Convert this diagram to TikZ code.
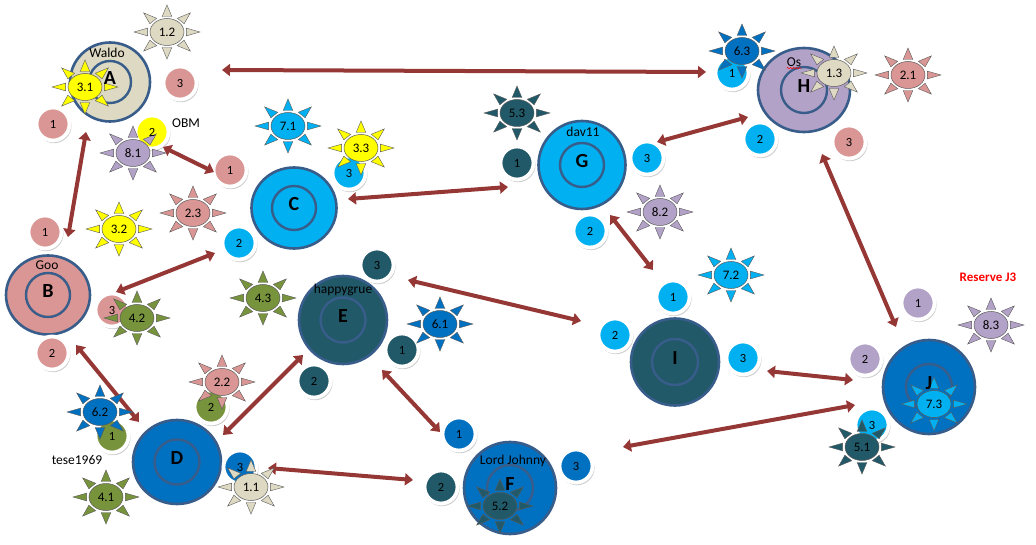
\documentclass[tikz,border=0pt]{standalone}
\usepackage{fontspec}
\setmainfont{Carlito}
\usepackage{tikz}
\usetikzlibrary{shapes.geometric, arrows.meta, shadows, decorations.pathmorphing}

\definecolor{RingBlue}{RGB}{56,93,138}
\definecolor{Tan}     {RGB}{221,217,195}
\definecolor{Rose}    {RGB}{217,150,148}
\definecolor{Sky}     {RGB}{0,176,240}
\definecolor{Cobalt}  {RGB}{0,112,192}
\definecolor{Teal}    {RGB}{33,89,104}
\definecolor{Lilac}   {RGB}{179,162,199}
\definecolor{Olive}   {RGB}{119,147,60}
\definecolor{Lemon}   {RGB}{255,255,0}
\definecolor{Brick}   {RGB}{149,55,53}
\definecolor{RayLine} {RGB}{90,90,90}

\pgfdeclarelayer{planets}
\pgfdeclarelayer{discs}
\pgfsetlayers{planets,discs,main}

%% planet: name, centre, width, height, ring, colour, letter
\newcommand{\planet}[7]{%
  \begin{pgfonlayer}{planets}
    \node[planet, fill=#6, minimum width=#3, minimum height=#4] (#1) at (#2) {};
    \node[ring, minimum size=#5] (#1-ring) at (#1) {};
  \end{pgfonlayer}
  \node[letter] (#1-txt) at ([yshift=4pt]#1.center) {#7};}

%% port: name, centre, colour, number
\newcommand{\port}[4]{%
  \begin{pgfonlayer}{discs}
    \node[disc, fill=#3] (#1) at (#2) {};
  \end{pgfonlayer}
  \node[portnum] (#1-txt) at (#1) {#4};}

%% sunburst: name, centre, colour, value
\newcommand{\sunburst}[4]{%
  \begin{scope}[shift={(#2)}]
    \foreach \a in {0,45,...,315}
      \filldraw[ray, fill=#3] ({33*cos(\a)},{27*sin(\a)})
        -- ({20*cos(\a+14)},{16*sin(\a+14)})
        -- ({20*cos(\a-14)},{16*sin(\a-14)}) -- cycle;
    \node[sunbody, fill=#3] (#1) at (0,0) {#4};
  \end{scope}}

\begin{document}
\begin{tikzpicture}[x=1pt, y=-1pt,
  planet/.style  = {ellipse, draw=RingBlue, line width=2.6pt, inner sep=0pt},
  ring/.style    = {ellipse, draw=RingBlue, line width=2.4pt, inner sep=0pt},
  letter/.style  = {font=\fontsize{20}{22}\selectfont\bfseries},
  disc/.style    = {circle, draw=white, line width=3.8pt, minimum size=33pt,
                    inner sep=0pt,
                    drop shadow={shadow xshift=1pt, shadow yshift=-1.6pt,
                                 shadow scale=1.06, opacity=0.4}},
  portnum/.style = {font=\fontsize{12.5}{15}\selectfont, inner sep=0pt},
  ray/.style     = {draw=RayLine, line width=0.4pt},
  sunbody/.style = {ellipse, draw=RayLine, line width=0.5pt, inner sep=0pt,
                    minimum width=34pt, minimum height=27pt,
                    font=\fontsize{13}{15}\selectfont},
  who/.style     = {font=\fontsize{13.5}{15}\selectfont, inner sep=0pt},
  link/.style    = {Brick, line width=4pt,
                    {Triangle[length=8pt,width=12pt]}-{Triangle[length=8pt,width=12pt]}}
]
  \useasboundingbox (0,0) rectangle (1036,545);

  %% Arrow ends
  \coordinate (a2h) at (222,70);  \coordinate (h2a) at (706,72);
  \coordinate (a2b) at (86,132);  \coordinate (b2a) at (68,237);
  \coordinate (o2c) at (163,147); \coordinate (c2o) at (214,172);
  \coordinate (b2c) at (116,292); \coordinate (c2b) at (215,253);
  \coordinate (b2d) at (76,345);  \coordinate (d2b) at (139,422);
  \coordinate (d2e) at (223,435); \coordinate (e2d) at (303,355);
  \coordinate (d2f) at (268,468); \coordinate (f2d) at (413,480);
  \coordinate (c2g) at (348,199); \coordinate (g2c) at (508,187);
  \coordinate (e2i) at (408,280); \coordinate (i2e) at (581,321);
  \coordinate (e2f) at (382,370); \coordinate (f2e) at (440,432);
  \coordinate (g2h) at (657,142); \coordinate (h2g) at (748,117);
  \coordinate (g2i) at (610,215); \coordinate (i2g) at (653,270);
  \coordinate (h2j) at (822,154); \coordinate (j2h) at (896,327);
  \coordinate (i2j) at (767,371); \coordinate (j2i) at (853,380);
  \coordinate (f2j) at (623,447); \coordinate (j2f) at (855,405);

  %% Arrows
  \draw[link] (a2h) -- (h2a);
  \draw[link] (a2b) -- (b2a);
  \draw[link] (o2c) -- (c2o);
  \draw[link] (b2c) -- (c2b);
  \draw[link] (b2d) -- (d2b);
  \draw[link] (d2e) -- (e2d);
  \draw[link] (d2f) -- (f2d);
  \draw[link] (c2g) -- (g2c);
  \draw[link] (e2i) -- (i2e);
  \draw[link] (e2f) -- (f2e);
  \draw[link] (g2h) -- (h2g);
  \draw[link] (g2i) -- (i2g);
  \draw[link] (h2j) -- (j2h);
  \draw[link] (i2j) -- (j2i);
  \draw[link] (f2j) -- (j2f);

  %% Suns
  \sunburst{s12}{167,32}{Tan}{1.2}
  \sunburst{s31}{85,87}{Lemon}{3.1}
  \sunburst{s81}{133,153}{Lilac}{8.1}
  \sunburst{s32}{119,229}{Lemon}{3.2}
  \sunburst{s23}{193,213}{Rose}{2.3}
  \sunburst{s42}{137,318}{Olive}{4.2}
  \sunburst{s43}{263,298}{Olive}{4.3}
  \sunburst{s71}{288,126}{Sky}{7.1}
  \sunburst{s33}{361,148}{Lemon}{3.3}
  \sunburst{s62}{100,412}{Cobalt}{6.2}
  \sunburst{s22}{222,382}{Rose}{2.2}
  \sunburst{s11}{251,487}{Tan}{1.1}
  \sunburst{s41}{106,497}{Olive}{4.1}
  \sunburst{s61}{440,324}{Cobalt}{6.1}
  \sunburst{s52}{500,506}{Teal}{5.2}
  \sunburst{s53}{517,113}{Teal}{5.3}
  \sunburst{s82}{660,212}{Lilac}{8.2}
  \sunburst{s63}{742,51}{Cobalt}{6.3}
  \sunburst{s13}{834,73}{Tan}{1.3}
  \sunburst{s21}{908,75}{Rose}{2.1}
  \sunburst{s72}{731,275}{Sky}{7.2}
  \sunburst{s83}{991,325}{Lilac}{8.3}
  \sunburst{s73}{934,404}{Sky}{7.3}
  \sunburst{s51}{862,447}{Teal}{5.1}

  %% Planets
  \planet{A}{110,82}{80pt}{79pt}{42pt}{Tan}{A}
  \planet{B}{48,295}{84pt}{79pt}{44pt}{Rose}{B}
  \planet{C}{294,208}{85pt}{81pt}{44pt}{Sky}{C}
  \planet{D}{177,462}{88pt}{84pt}{45pt}{Cobalt}{D}
  \planet{E}{343,320}{88pt}{88pt}{45pt}{Teal}{E}
  \planet{F}{510,488}{92pt}{92pt}{46pt}{Cobalt}{F}
  \planet{G}{582,165}{87pt}{88pt}{44pt}{Sky}{G}
  \planet{H}{804,90}{92pt}{84pt}{46pt}{Lilac}{H}
  \planet{I}{675,362}{88pt}{87pt}{46pt}{Teal}{I}
  \planet{J}{929,387}{92pt}{94pt}{46pt}{Cobalt}{J}

  %% Ports
  \port{a1}{53,124}{Rose}{1}
  \port{a2}{152,132}{Lemon}{2}
  \port{a3}{180,83}{Rose}{3}
  \port{o1}{230,170}{Rose}{1}
  \port{b1}{45,232}{Rose}{1}
  \port{b2}{52,353}{Rose}{2}
  \port{b3}{112,310}{Rose}{3}
  \port{c2}{239,243}{Sky}{2}
  \port{c3}{349,173}{Sky}{3}
  \port{d1}{112,436}{Olive}{1}
  \port{d2}{211,407}{Olive}{2}
  \port{d3}{240,467}{Cobalt}{3}
  \port{e1}{402,350}{Teal}{1}
  \port{e2}{314,381}{Teal}{2}
  \port{e3}{377,265}{Teal}{3}
  \port{f1}{459,434}{Cobalt}{1}
  \port{f2}{441,487}{Teal}{2}
  \port{f3}{576,466}{Cobalt}{3}
  \port{g1}{517,163}{Teal}{1}
  \port{g2}{590,231}{Sky}{2}
  \port{g3}{647,158}{Sky}{3}
  \port{h1}{732,73}{Sky}{1}
  \port{h2}{760,139}{Sky}{2}
  \port{h3}{849,142}{Rose}{3}
  \port{i1}{673,297}{Sky}{1}
  \port{i2}{615,335}{Sky}{2}
  \port{i3}{743,358}{Sky}{3}
  \port{j1}{918,303}{Lilac}{1}
  \port{j2}{865,359}{Lilac}{2}
  \port{j3}{872,425}{Sky}{3}

  %% Owners
  \node[who] (waldo) at (107,53)  {Waldo};
  \node[who] (goo)   at (47,265)  {Goo};
  \node[who] (obm)   at (186,123) {OBM};
  \node[who] (happy) at (343,290) {happygrue};
  \node[who] (tese)  at (77,460)  {tese1969};
  \node[who] (lord)  at (513,461) {Lord Johnny};
  \node[who] (dav)   at (583,132) {dav11};
  \node[who] (os)    at (794,62)  {Os};
  \draw[red, line width=0.5pt, decorate,
        decoration={snake, amplitude=0.8pt, segment length=3pt}]
    ([yshift=-1.5pt]os.south west) -- ([yshift=-1.5pt]os.south east);
  \node[who, red, font=\fontsize{13}{15}\selectfont\bfseries]
    (resv) at (988,277) {Reserve J3};
\end{tikzpicture}
\end{document}
